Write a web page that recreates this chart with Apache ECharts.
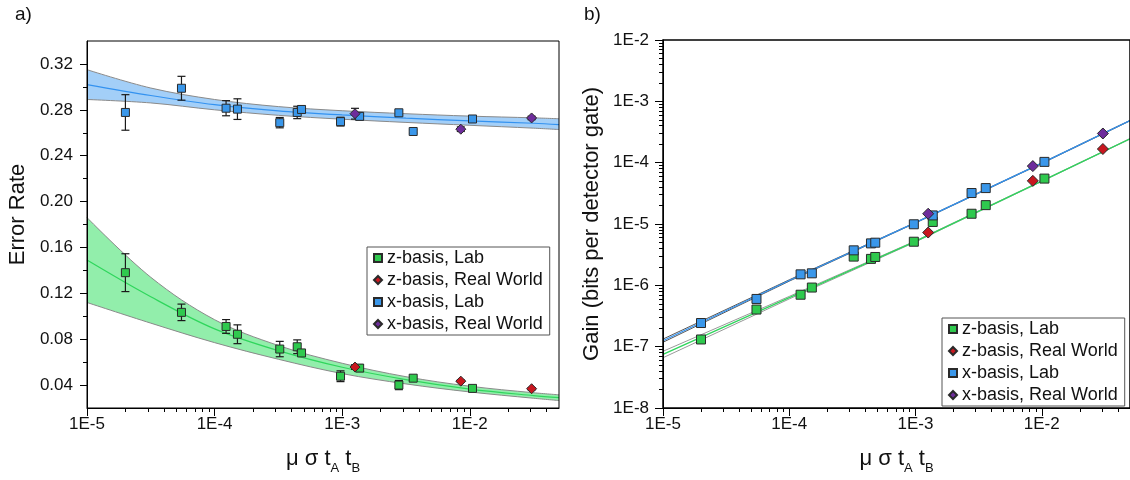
<!DOCTYPE html>
<html><head><meta charset="utf-8">
<script src="https://cdn.jsdelivr.net/npm/echarts@6/dist/echarts.min.js"></script>
<style>html,body{margin:0;padding:0;background:#fff}#c{width:1130px;height:480px}</style>
</head><body><div id="c"></div>
<script>
// ---------- data ----------
const seriesNames = ['z-basis, Lab', 'z-basis, Real World', 'x-basis, Lab', 'x-basis, Real World'];
const labX = [2.0e-5, 5.5e-5, 1.23e-4, 1.51e-4, 3.24e-4, 4.44e-4, 4.8e-4, 9.7e-4, 1.37e-3, 2.78e-3, 3.6e-3, 1.05e-2];
const rwX  = [1.26e-3, 8.5e-3, 3.05e-2];

// panel a) error rates
const xLabErrRate = [0.2777, 0.2988, 0.2814, 0.2806, 0.2688, 0.2777, 0.2803, 0.2697, 0.2743, 0.2774, 0.2611, 0.2720];
const xLabErrBar  = [0.0155, 0.0104, 0.0066, 0.0090, 0.0045, 0.0054, 0.0030, 0.0038, 0.0030, 0.0015, 0.0015, 0.0015];
const xRwErrRate  = [0.2766, 0.2631, 0.2729];
const xRwErrBar   = [0.0047, 0.0020, 0.0015];
const zLabErrRate = [0.1380, 0.1034, 0.0911, 0.0843, 0.0714, 0.0734, 0.0680, 0.0477, 0.0548, 0.0400, 0.0460, 0.0371];
const zLabErrBar  = [0.0165, 0.0072, 0.0060, 0.0082, 0.0067, 0.0060, 0.0020, 0.0047, 0.0030, 0.0040, 0.0012, 0.0012];
const zRwErrRate  = [0.0557, 0.0434, 0.0368];
const zRwErrBar   = [0.0020, 0.0010, 0.0010];

// panel a) fitted curves and confidence bands (read at half-decade steps)
const fitX  = [1e-5, 3.16e-5, 1e-4, 3.16e-4, 1e-3, 3.16e-3, 1e-2, 3.16e-2, 5e-2];
const xFit  = [0.302, 0.2925, 0.2845, 0.2790, 0.2755, 0.2727, 0.2703, 0.2683, 0.2670];
const xUp   = [0.315, 0.2990, 0.2890, 0.2828, 0.2792, 0.2766, 0.2745, 0.2730, 0.2722];
const xLo   = [0.289, 0.2860, 0.2800, 0.2752, 0.2718, 0.2690, 0.2665, 0.2640, 0.2628];
const zFit  = [0.149, 0.117, 0.089, 0.0700, 0.0555, 0.0447, 0.0365, 0.0308, 0.0290];
const zUp   = [0.186, 0.134, 0.097, 0.0745, 0.0590, 0.0473, 0.0390, 0.0333, 0.0315];
const zLo   = [0.112, 0.094, 0.077, 0.0625, 0.0500, 0.0410, 0.0340, 0.0285, 0.0265];

// panel b) gain
const xLabGain = [2.43e-7, 6.0e-7, 1.51e-6, 1.57e-6, 3.72e-6, 4.83e-6, 4.96e-6, 9.9e-6, 1.38e-5, 3.2e-5, 3.85e-5, 1.03e-4];
const xRwGain  = [1.47e-5, 8.8e-5, 2.99e-4];
const zLabGain = [1.31e-7, 4.03e-7, 7.03e-7, 9.2e-7, 2.94e-6, 2.7e-6, 2.9e-6, 5.14e-6, 1.08e-5, 1.47e-5, 2.03e-5, 5.5e-5];
const zRwGain  = [7.26e-6, 5.05e-5, 1.67e-4];
const gFitX     = [1e-5, 1e-4, 1e-3, 1e-2, 5e-2];
const xGainFit  = [1.25e-7, 1.2e-6, 1.05e-5, 9.8e-5, 4.85e-4];
const xGainUp   = [1.33e-7, 1.23e-6, 1.06e-5, 9.9e-5, 4.9e-4];
const xGainLo   = [1.18e-7, 1.17e-6, 1.04e-5, 9.7e-5, 4.8e-4];
const zGainFit  = [7.5e-8, 6.3e-7, 5.2e-6, 5.0e-5, 2.45e-4];
const zGainUp   = [8.4e-8, 6.6e-7, 5.3e-6, 5.05e-5, 2.47e-4];
const zGainLo   = [6.6e-8, 6.0e-7, 5.1e-6, 4.95e-5, 2.43e-4];

// tick labels
const xDecades = [-5, -4, -3, -2];
const gDecades = [-8, -7, -6, -5, -4, -3, -2];
const errTicks = [0.04, 0.08, 0.12, 0.16, 0.20, 0.24, 0.28, 0.32];
const errMinor = [0.06, 0.10, 0.14, 0.18, 0.22, 0.26, 0.30];
const minorMult = [2, 3, 4, 5, 6, 7, 8, 9];

// ---------- helpers ----------
const FONT = 'Liberation Sans, Arial, Helvetica, sans-serif';
const X_MIN = 1e-5, X_MAX = 5e-2;
const LX_MIN = Math.log10(X_MIN), LX_MAX = Math.log10(X_MAX);
function minorLogs(lo, hi) {
  const out = [];
  for (let d = Math.floor(lo); d < hi; d++) for (const m of minorMult) {
    const v = d + Math.log10(m);
    if (v > lo && v < hi) out.push(v);
  }
  return out;
}
const zip = (a, b) => a.map((v, i) => [v, b[i]]);
const zip3 = (a, b, c) => a.map((v, i) => [v, b[i], c[i]]);

const C = {
  blueFill: '#a3cff8', greenFill: '#92eeab',
  blueLine: '#3392f0', greenLine: '#2fd65c',
  band: '#8a8a8a',
  zLab: '#2fc94e', zRw: '#c8171f', xLab: '#3a97ea', xRw: '#6e2d9c'
};

const labelStyle = { fontFamily: FONT, fontSize: 17, color: '#111' };
const nameStyle = { fontFamily: FONT, fontSize: 22, color: '#111' };
const xNameRich = {
  rich: {
    m: { fontFamily: FONT, fontSize: 22, color: '#111', lineHeight: 28 },
    s: { fontFamily: FONT, fontSize: 13, color: '#111', lineHeight: 28, verticalAlign: 'bottom', padding: [0, 0, -2, 0] }
  }
};
const xName = '{m|μ σ t}{s|A}{m| t}{s|B}';

function dataLogAxis(grid) {
  return { type: 'log', gridIndex: grid, min: X_MIN, max: X_MAX, show: false, position: 'bottom', logBase: 10 };
}
function labelXAxis(grid) {
  return {
    type: 'value', gridIndex: grid, min: LX_MIN, max: LX_MAX, position: 'bottom', z: 10,
    axisLine: { show: true, lineStyle: { color: '#000', width: 1 } },
    axisTick: { show: true, customValues: xDecades, length: 8, lineStyle: { color: '#000' } },
    axisLabel: { show: true, customValues: xDecades, formatter: v => '1E' + v, margin: 8, ...labelStyle },
    splitLine: { show: false },
    name: xName, nameLocation: 'middle', nameGap: 37, nameTextStyle: xNameRich
  };
}
function minorXAxis(grid) {
  return {
    type: 'value', gridIndex: grid, min: LX_MIN, max: LX_MAX, position: 'bottom', z: 10,
    axisLine: { show: false },
    axisTick: { show: true, customValues: minorLogs(LX_MIN, LX_MAX), length: 4, lineStyle: { color: '#000' } },
    axisLabel: { show: false }, splitLine: { show: false }
  };
}

function errBarSeries(xs, ys, es, xi, yi) {
  return {
    type: 'custom', xAxisIndex: xi, yAxisIndex: yi, z: 3, silent: true,
    data: zip3(xs, ys, es),
    renderItem: (params, api) => {
      const x = api.value(0), y = api.value(1), e = api.value(2);
      const p0 = api.coord([x, y - e]), p1 = api.coord([x, y + e]);
      const w = 4;
      const st = { stroke: '#1a1a1a', lineWidth: 1.2 };
      return { type: 'group', children: [
        { type: 'line', shape: { x1: p0[0], y1: p0[1], x2: p1[0], y2: p1[1] }, style: st },
        { type: 'line', shape: { x1: p0[0] - w, y1: p0[1], x2: p0[0] + w, y2: p0[1] }, style: st },
        { type: 'line', shape: { x1: p1[0] - w, y1: p1[1], x2: p1[0] + w, y2: p1[1] }, style: st }
      ]};
    }
  };
}
function scatter(name, xs, ys, color, symbol, size, xi, yi) {
  return {
    name, type: 'scatter', xAxisIndex: xi, yAxisIndex: yi, z: 5,
    symbol, symbolSize: size, data: zip(xs, ys),
    itemStyle: { color, borderColor: '#2a2a2a', borderWidth: 1, opacity: 1 }
  };
}
function plainLine(xs, ys, color, width, xi, yi, smooth, z) {
  return {
    type: 'line', xAxisIndex: xi, yAxisIndex: yi, data: zip(xs, ys), symbol: 'none',
    smooth: smooth, silent: true, z: z,
    lineStyle: { color, width }, itemStyle: { color }
  };
}
// area from a curve down to the bottom of the plot
function fillDown(xs, ys, fill) {
  return {
    type: 'line', xAxisIndex: 0, yAxisIndex: 0, data: zip(xs, ys), symbol: 'none',
    smooth: 0.35, silent: true, z: 1,
    lineStyle: { opacity: 0, width: 0 }, areaStyle: { color: fill, opacity: 1, origin: 'start' }
  };
}

const legendBase = {
  data: seriesNames.map(n => ({ name: n })), orient: 'vertical', selectedMode: false,
  itemWidth: 8, itemHeight: 8, itemGap: 0, padding: [0, 7, 0, 6],
  borderColor: '#555', borderWidth: 1, backgroundColor: '#fff',
  textStyle: { fontFamily: FONT, fontSize: 18, lineHeight: 22, color: '#111' }
};

const option = {
  animation: false,
  backgroundColor: '#fff',
  title: [
    { text: 'a)', left: 10, top: 0, textStyle: { fontFamily: FONT, fontSize: 19, fontWeight: 'normal', color: '#111' } },
    { text: 'b)', left: 579, top: 0, textStyle: { fontFamily: FONT, fontSize: 19, fontWeight: 'normal', color: '#111' } }
  ],
  legend: [
    { ...legendBase, left: 367, top: 247 },
    { ...legendBase, left: 942, top: 318 }
  ],
  grid: [
    { left: 87, top: 41, width: 472, height: 372, show: true, z: 10, borderColor: '#000', borderWidth: 1, backgroundColor: 'transparent' },
    { left: 663, top: 40, width: 472, height: 373, show: true, z: 10, borderColor: '#000', borderWidth: 1.5, backgroundColor: 'transparent' }
  ],
  xAxis: [
    dataLogAxis(0), labelXAxis(0), minorXAxis(0),
    dataLogAxis(1), labelXAxis(1), minorXAxis(1)
  ],
  yAxis: [
    { type: 'value', gridIndex: 0, min: 0.02, max: 0.34, position: 'left', z: 10,
      axisLine: { show: true, lineStyle: { color: '#000' } },
      axisTick: { show: true, customValues: errTicks, length: 7, lineStyle: { color: '#000' } },
      axisLabel: { show: true, customValues: errTicks, formatter: v => v.toFixed(2), margin: 14, ...labelStyle },
      splitLine: { show: false },
      name: 'Error Rate', nameLocation: 'middle', nameGap: 58,
      nameTextStyle: { ...nameStyle, padding: [0, 0, 0, 20] } },
    { type: 'value', gridIndex: 0, min: 0.02, max: 0.34, position: 'left', z: 10,
      axisLine: { show: false }, axisLabel: { show: false }, splitLine: { show: false },
      axisTick: { show: true, customValues: errMinor, length: 4, lineStyle: { color: '#000' } } },
    { type: 'log', gridIndex: 1, min: 1e-8, max: 1e-2, show: false, position: 'left', logBase: 10 },
    { type: 'value', gridIndex: 1, min: -8, max: -2, position: 'left', z: 10,
      axisLine: { show: true, lineStyle: { color: '#000' } },
      axisTick: { show: true, customValues: gDecades, length: 8, lineStyle: { color: '#000' } },
      axisLabel: { show: true, customValues: gDecades, formatter: v => '1E' + v, margin: 14, ...labelStyle },
      splitLine: { show: false },
      name: 'Gain (bits per detector gate)', nameLocation: 'middle', nameGap: 60, nameTextStyle: nameStyle },
    { type: 'value', gridIndex: 1, min: -8, max: -2, position: 'left', z: 10,
      axisLine: { show: false }, axisLabel: { show: false }, splitLine: { show: false },
      axisTick: { show: true, customValues: minorLogs(-8, -2), length: 4, lineStyle: { color: '#000' } } }
  ],
  series: [
    // panel a) bands: fill under upper bound, then blank out under lower bound
    fillDown(fitX, xUp, C.blueFill),
    fillDown(fitX, xLo, '#ffffff'),
    fillDown(fitX, zUp, C.greenFill),
    fillDown(fitX, zLo, '#ffffff'),
    plainLine(fitX, xUp, C.band, 1, 0, 0, 0.35, 2),
    plainLine(fitX, xLo, C.band, 1, 0, 0, 0.35, 2),
    plainLine(fitX, zUp, C.band, 1, 0, 0, 0.35, 2),
    plainLine(fitX, zLo, C.band, 1, 0, 0, 0.35, 2),
    plainLine(fitX, xFit, C.blueLine, 1.2, 0, 0, 0.35, 2),
    plainLine(fitX, zFit, C.greenLine, 1.2, 0, 0, 0.35, 2),
    errBarSeries(labX, xLabErrRate, xLabErrBar, 0, 0),
    errBarSeries(rwX, xRwErrRate, xRwErrBar, 0, 0),
    errBarSeries(labX, zLabErrRate, zLabErrBar, 0, 0),
    errBarSeries(rwX, zRwErrRate, zRwErrBar, 0, 0),
    scatter(seriesNames[0], labX, zLabErrRate, C.zLab, 'rect', 8, 0, 0),
    scatter(seriesNames[1], rwX, zRwErrRate, C.zRw, 'diamond', 10, 0, 0),
    scatter(seriesNames[2], labX, xLabErrRate, C.xLab, 'rect', 8, 0, 0),
    scatter(seriesNames[3], rwX, xRwErrRate, C.xRw, 'diamond', 10, 0, 0),
    // panel b)
    plainLine(gFitX, xGainUp, '#555', 1, 3, 2, false, 2),
    plainLine(gFitX, xGainLo, '#555', 1, 3, 2, false, 2),
    plainLine(gFitX, zGainUp, '#999', 1, 3, 2, false, 2),
    plainLine(gFitX, zGainLo, '#999', 1, 3, 2, false, 2),
    plainLine(gFitX, xGainFit, C.blueLine, 1.3, 3, 2, false, 3),
    plainLine(gFitX, zGainFit, C.greenLine, 1.3, 3, 2, false, 3),
    scatter(seriesNames[0], labX, zLabGain, C.zLab, 'rect', 9, 3, 2),
    scatter(seriesNames[1], rwX, zRwGain, C.zRw, 'diamond', 11, 3, 2),
    scatter(seriesNames[2], labX, xLabGain, C.xLab, 'rect', 9, 3, 2),
    scatter(seriesNames[3], rwX, xRwGain, C.xRw, 'diamond', 11, 3, 2)
  ]
};

const chart = echarts.init(document.getElementById('c'), null, { renderer: 'canvas' });
chart.setOption(option);
</script>
</body></html>
